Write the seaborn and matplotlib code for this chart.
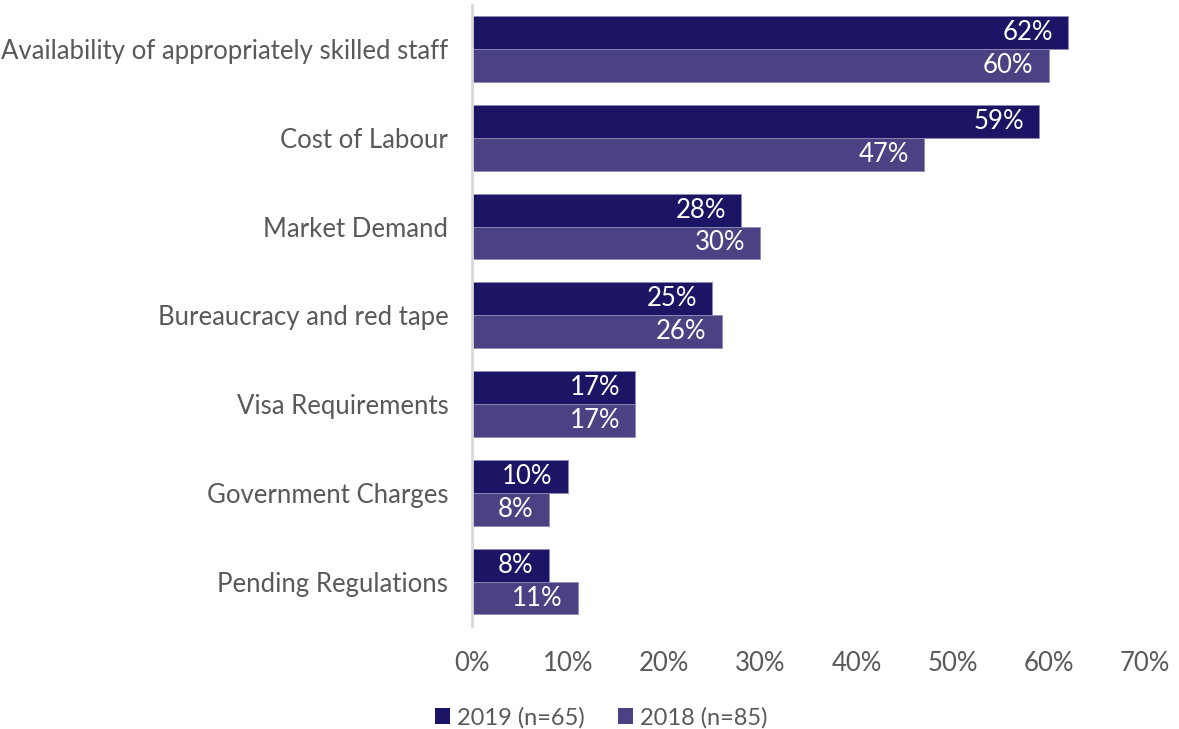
import matplotlib
matplotlib.use("Agg")
import matplotlib.pyplot as plt
import seaborn as sns
import pandas as pd
from matplotlib.patches import Patch

categories = [
    "Availability of appropriately skilled staff",
    "Cost of Labour",
    "Market Demand",
    "Bureaucracy and red tape",
    "Visa Requirements",
    "Government Charges",
    "Pending Regulations",
]
values_2019 = [62, 59, 28, 25, 17, 10, 8]
values_2018 = [60, 47, 30, 26, 17, 8, 11]
series_names = ["2019 (n=65)", "2018 (n=85)"]
x_ticks = [0, 10, 20, 30, 40, 50, 60, 70]

colors = ["#1c1464", "#4a4283"]
text_gray = "#595959"

df = pd.DataFrame({
    "category": categories * 2,
    "value": values_2019 + values_2018,
    "series": [series_names[0]] * len(categories) + [series_names[1]] * len(categories),
})

sns.set_theme(style="white")
plt.rcParams["font.family"] = ["Lato", "DejaVu Sans"]

fig = plt.figure(figsize=(11.79, 7.29), dpi=100)
ax = fig.add_axes([0.4003, 0.1413, 0.5709, 0.8524])

sns.barplot(
    data=df, y="category", x="value", hue="series",
    order=categories, hue_order=series_names,
    palette=colors, width=0.74, saturation=1,
    orient="h", ax=ax, legend=False, errorbar=None,
    edgecolor="#8f8ab5", linewidth=0.6,
)

# value labels right-aligned just inside the end of each bar
for container in ax.containers:
    for bar, v in zip(container, container.datavalues):
        ax.annotate(f"{v:.0f}%",
                    xy=(bar.get_x() + bar.get_width(), bar.get_y() + bar.get_height() / 2),
                    xytext=(-11, 0), textcoords="offset points",
                    ha="right", va="center", color="white", fontsize=18.5)

ax.set_xlim(0, 70)
ax.set_xticks(x_ticks)
ax.set_xticklabels([f"{t}%" for t in x_ticks], fontsize=18.5, color=text_gray)
ax.tick_params(axis="y", labelsize=18.5, labelcolor=text_gray, length=0, pad=17)
ax.tick_params(axis="x", length=0, pad=18)
ax.set_xlabel("")
ax.set_ylabel("")
for side in ["top", "right", "bottom"]:
    ax.spines[side].set_visible(False)
ax.spines["left"].set_color("#d9d9d9")
ax.spines["left"].set_linewidth(2)

handles = [Patch(facecolor=c, edgecolor="none") for c in colors]
fig.legend(handles, series_names, loc="center", bbox_to_anchor=(0.51, 0.016),
           ncol=2, frameon=False, fontsize=17, labelcolor=text_gray,
           handlelength=0.65, handleheight=0.65, handletextpad=0.3, columnspacing=1.4)

fig.savefig("out.png", dpi=100)
